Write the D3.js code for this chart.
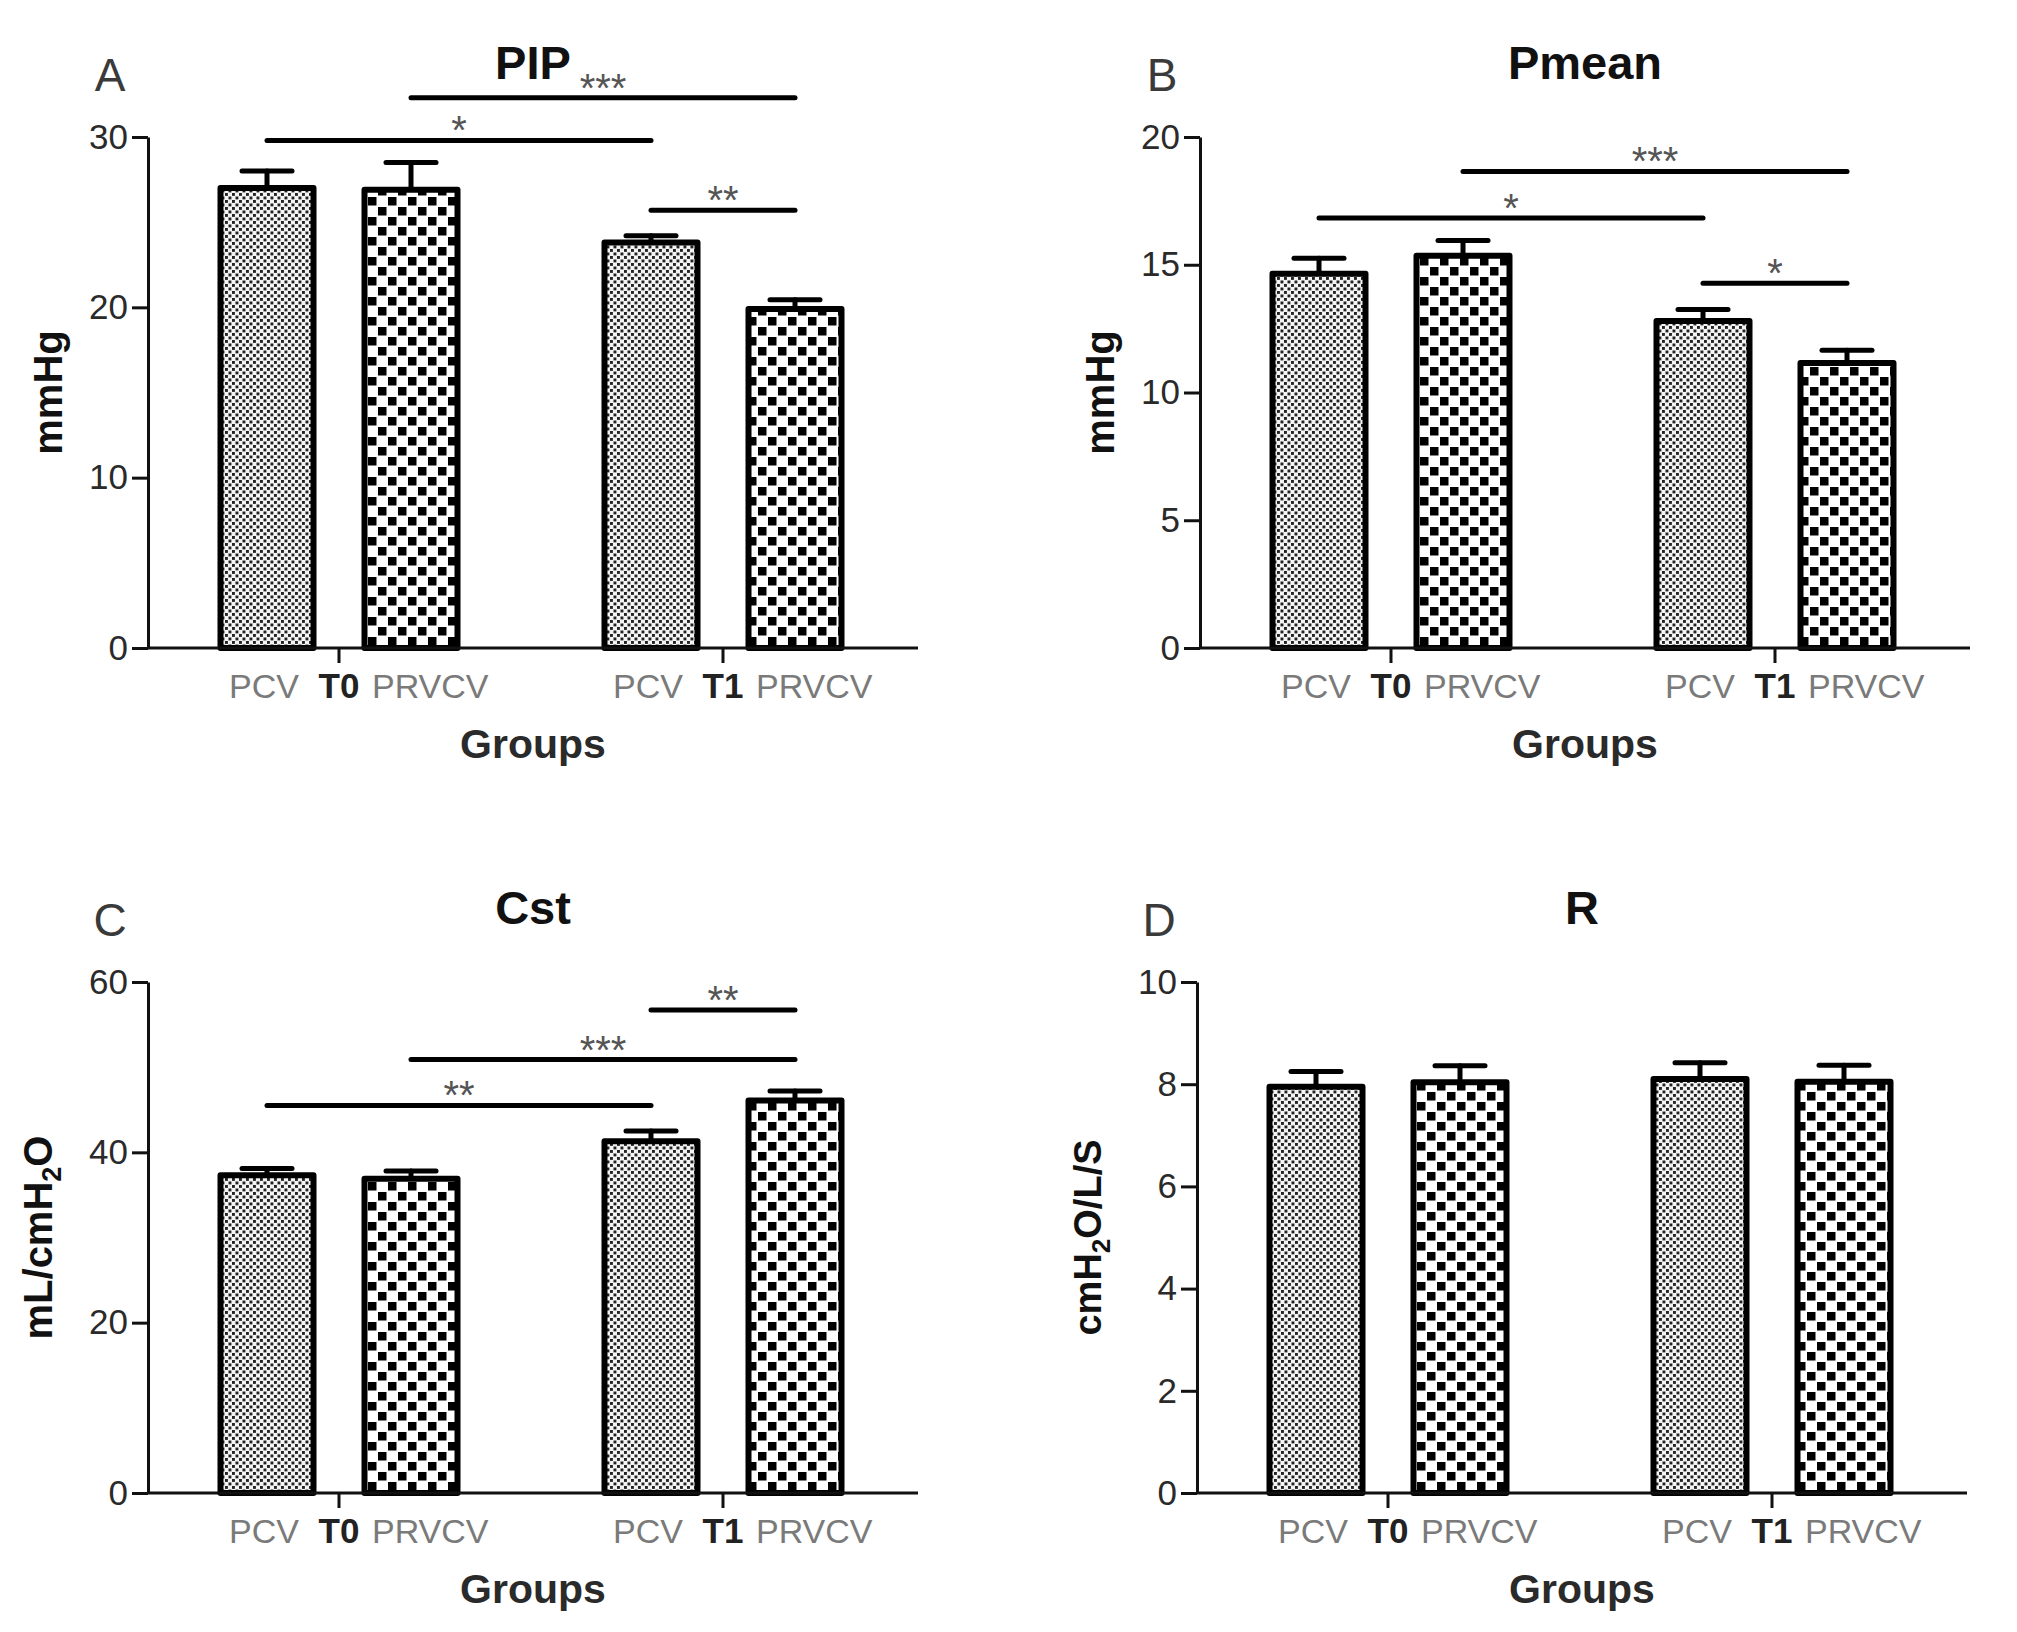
<!DOCTYPE html>
<html>
<head>
<meta charset="utf-8">
<script src="https://cdn.jsdelivr.net/npm/d3@7"></script>
<style>
  body { margin: 0; background: #fff; }
  svg text { font-family: "Liberation Sans", Arial, sans-serif; }
</style>
</head>
<body>
<svg id="fig" width="2017" height="1632"></svg>
<script>
// groups on the x axis and the two ventilation modes
var groups = ['T0', 'T1'];
var series = ['PCV', 'PRVCV'];

// PIP (mmHg): mean and SEM, index = group
var pipPCV = [27.0, 23.8], pipPCVsem = [1.0, 0.4];
var pipPRVCV = [26.9, 19.9], pipPRVCVsem = [1.6, 0.55];
var pipTicks = [0, 10, 20, 30];

// Pmean (mmHg)
var pmeanPCV = [14.65, 12.8], pmeanPCVsem = [0.6, 0.45];
var pmeanPRVCV = [15.35, 11.15], pmeanPRVCVsem = [0.6, 0.5];
var pmeanTicks = [0, 5, 10, 15, 20];

// Cst (mL/cmH2O)
var cstPCV = [37.3, 41.3], cstPCVsem = [0.8, 1.2];
var cstPRVCV = [36.9, 46.1], cstPRVCVsem = [0.9, 1.1];
var cstTicks = [0, 20, 40, 60];

// R (cmH2O/L/S)
var rPCV = [7.95, 8.1], rPCVsem = [0.3, 0.32];
var rPRVCV = [8.04, 8.05], rPRVCVsem = [0.32, 0.32];
var rTicks = [0, 2, 4, 6, 8, 10];

// significance brackets: [group, series, group, series, height, stars]
var pipSig = [['T0', 'PRVCV', 'T1', 'PRVCV', 32.3, '***'], ['T0', 'PCV', 'T1', 'PCV', 29.8, '*'], ['T1', 'PCV', 'T1', 'PRVCV', 25.7, '**']];
var pmeanSig = [['T0', 'PRVCV', 'T1', 'PRVCV', 18.65, '***'], ['T0', 'PCV', 'T1', 'PCV', 16.83, '*'], ['T1', 'PCV', 'T1', 'PRVCV', 14.28, '*']];
var cstSig = [['T1', 'PCV', 'T1', 'PRVCV', 56.7, '**'], ['T0', 'PRVCV', 'T1', 'PRVCV', 50.9, '***'], ['T0', 'PCV', 'T1', 'PCV', 45.5, '**']];
var rSig = [];

var panels = [
  {letter: 'A', title: 'PIP', ylab: 'mmHg', ticks: pipTicks, pcv: pipPCV, pcvE: pipPCVsem, prv: pipPRVCV, prvE: pipPRVCVsem, sig: pipSig, ox: 148, oy: 137},
  {letter: 'B', title: 'Pmean', ylab: 'mmHg', ticks: pmeanTicks, pcv: pmeanPCV, pcvE: pmeanPCVsem, prv: pmeanPRVCV, prvE: pmeanPRVCVsem, sig: pmeanSig, ox: 1200, oy: 137},
  {letter: 'C', title: 'Cst', ylab: 'cst', ticks: cstTicks, pcv: cstPCV, pcvE: cstPCVsem, prv: cstPRVCV, prvE: cstPRVCVsem, sig: cstSig, ox: 148, oy: 982},
  {letter: 'D', title: 'R', ylab: 'r', ticks: rTicks, pcv: rPCV, pcvE: rPCVsem, prv: rPRVCV, prvE: rPRVCVsem, sig: rSig, ox: 1197, oy: 982}
];

var W = 770, H = 511, barStroke = 6;

var svg = d3.select('#fig');
var defs = svg.append('defs');

// fine dotted fill for PCV
var pDots = defs.append('pattern').attr('id', 'dots')
  .attr('patternUnits', 'userSpaceOnUse').attr('width', 7).attr('height', 7);
pDots.append('rect').attr('width', 7).attr('height', 7).attr('fill', '#f4f4f4');
pDots.append('rect').attr('x', 0).attr('y', 0).attr('width', 2.9).attr('height', 2.9).attr('fill', '#222');
pDots.append('rect').attr('x', 3.5).attr('y', 3.5).attr('width', 2.9).attr('height', 2.9).attr('fill', '#222');

// coarse checker fill for PRVCV
var pChk = defs.append('pattern').attr('id', 'checker')
  .attr('patternUnits', 'userSpaceOnUse').attr('width', 20).attr('height', 20);
pChk.append('rect').attr('width', 20).attr('height', 20).attr('fill', '#fff');
pChk.append('rect').attr('x', 0).attr('y', 0).attr('width', 8.5).attr('height', 8.5).attr('fill', '#000');
pChk.append('rect').attr('x', 10).attr('y', 10).attr('width', 8.5).attr('height', 8.5).attr('fill', '#000');

var fills = {PCV: 'url(#dots)', PRVCV: 'url(#checker)'};

panels.forEach(function(p) {
  var g = svg.append('g').attr('transform', 'translate(' + p.ox + ',' + p.oy + ')');

  var y = d3.scaleLinear().domain([0, d3.max(p.ticks)]).range([H, 0]);
  var xg = d3.scalePoint().domain(groups).range([191, 575]);
  var xs = d3.scaleBand().domain(series).range([-121.5, 121.5]).paddingInner(0.3125);

  var rows = [];
  groups.forEach(function(grp, i) {
    rows.push({g: grp, s: 'PCV', v: p.pcv[i], e: p.pcvE[i]});
    rows.push({g: grp, s: 'PRVCV', v: p.prv[i], e: p.prvE[i]});
  });
  var cx = function(grp, s) { return xg(grp) + xs(s) + xs.bandwidth() / 2; };

  // error bars (behind bar outline)
  var err = g.selectAll('g.err').data(rows).enter().append('g').attr('class', 'err')
    .attr('stroke', '#000').attr('stroke-width', 5).attr('stroke-linecap', 'round');
  err.append('line')
    .attr('x1', function(d) { return cx(d.g, d.s); })
    .attr('x2', function(d) { return cx(d.g, d.s); })
    .attr('y1', function(d) { return y(d.v); })
    .attr('y2', function(d) { return y(d.v + d.e); });
  err.append('line')
    .attr('x1', function(d) { return cx(d.g, d.s) - 25; })
    .attr('x2', function(d) { return cx(d.g, d.s) + 25; })
    .attr('y1', function(d) { return y(d.v + d.e); })
    .attr('y2', function(d) { return y(d.v + d.e); });

  // bars
  g.selectAll('rect.bar').data(rows).enter().append('rect').attr('class', 'bar')
    .attr('x', function(d) { return xg(d.g) + xs(d.s) + barStroke / 2; })
    .attr('width', xs.bandwidth() - barStroke)
    .attr('y', function(d) { return y(d.v); })
    .attr('height', function(d) { return y(0) - y(d.v); })
    .attr('fill', function(d) { return fills[d.s]; })
    .attr('stroke', '#000').attr('stroke-width', barStroke)
    .attr('stroke-linejoin', 'round');

  // y axis
  var ya = g.append('g').call(d3.axisLeft(y).tickValues(p.ticks).tickSize(16).tickSizeOuter(0).tickPadding(4));
  ya.select('.domain').attr('stroke', '#111').attr('stroke-width', 3);
  ya.selectAll('.tick line').attr('stroke', '#111').attr('stroke-width', 3);
  ya.selectAll('.tick text').attr('font-size', 35).attr('fill', '#2a2a2a')
    .attr('font-family', '"Liberation Sans", Arial, sans-serif');

  // x axis line and group ticks
  g.append('line').attr('x1', 0).attr('x2', W).attr('y1', y(0)).attr('y2', y(0))
    .attr('stroke', '#111').attr('stroke-width', 3);
  g.selectAll('line.gtick').data(groups).enter().append('line').attr('class', 'gtick')
    .attr('x1', function(d) { return xg(d); }).attr('x2', function(d) { return xg(d); })
    .attr('y1', y(0)).attr('y2', y(0) + 15)
    .attr('stroke', '#111').attr('stroke-width', 3);

  // category labels
  var lab = g.selectAll('g.glab').data(groups).enter().append('g').attr('class', 'glab')
    .attr('transform', function(d) { return 'translate(' + xg(d) + ',' + (H + 50) + ')'; })
    .attr('font-size', 34);
  lab.append('text').attr('x', -40).attr('text-anchor', 'end').attr('fill', '#7a7a7a').text(series[0]);
  lab.append('text').attr('x', 0).attr('text-anchor', 'middle').attr('font-weight', 'bold').attr('fill', '#222')
    .attr('font-size', 35).text(function(d) { return d; });
  lab.append('text').attr('x', 33).attr('text-anchor', 'start').attr('fill', '#7a7a7a').text(series[1]);

  g.append('text').attr('x', W / 2).attr('y', H + 110).attr('text-anchor', 'middle')
    .attr('font-size', 41).attr('font-weight', 'bold').attr('fill', '#2a2a2a').text('Groups');

  // title and panel letter
  g.append('text').attr('x', W / 2).attr('y', -58).attr('text-anchor', 'middle')
    .attr('font-size', 47).attr('font-weight', 'bold').attr('fill', '#111').text(p.title);
  g.append('text').attr('x', -38).attr('y', -46).attr('text-anchor', 'middle')
    .attr('font-size', 46).attr('fill', '#3a3a3a').text(p.letter);

  // y axis title
  var yx = p.ylab === 'mmHg' ? -86 : -96;
  var yt = g.append('text').attr('transform', 'translate(' + yx + ',' + (H / 2) + ') rotate(-90)')
    .attr('text-anchor', 'middle').attr('font-size', p.ylab === 'r' ? 38 : 40)
    .attr('font-weight', 'bold').attr('fill', '#111');
  if (p.ylab === 'cst') {
    yt.append('tspan').text('mL/cmH');
    yt.append('tspan').attr('font-size', 27).attr('dy', 9).text('2');
    yt.append('tspan').attr('dy', -9).text('O');
  } else if (p.ylab === 'r') {
    yt.append('tspan').text('cmH');
    yt.append('tspan').attr('font-size', 26).attr('dy', 9).text('2');
    yt.append('tspan').attr('dy', -9).text('O/L/S');
  } else {
    yt.text(p.ylab);
  }

  // significance brackets
  var sg = g.selectAll('g.sig').data(p.sig).enter().append('g').attr('class', 'sig');
  sg.append('line')
    .attr('x1', function(d) { return cx(d[0], d[1]); })
    .attr('x2', function(d) { return cx(d[2], d[3]); })
    .attr('y1', function(d) { return y(d[4]); })
    .attr('y2', function(d) { return y(d[4]); })
    .attr('stroke', '#000').attr('stroke-width', 5).attr('stroke-linecap', 'round');
  sg.append('text')
    .attr('x', function(d) { return (cx(d[0], d[1]) + cx(d[2], d[3])) / 2; })
    .attr('y', function(d) { return y(d[4]) + 4; })
    .attr('text-anchor', 'middle').attr('font-size', 40).attr('fill', '#555')
    .text(function(d) { return d[5]; });
});
</script>
</body>
</html>
